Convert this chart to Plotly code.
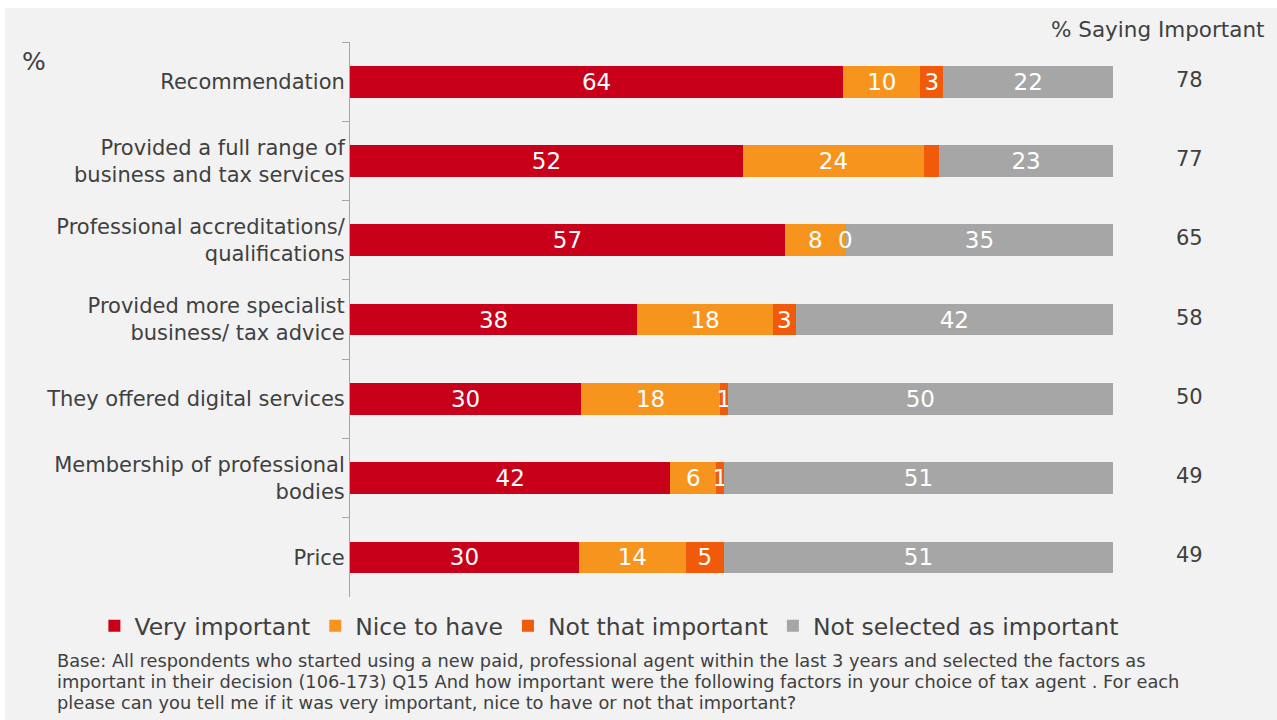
import plotly.graph_objects as go

# Factors in choosing a tax agent (top to bottom)
factors = [
    "Recommendation",
    "Provided a full range of<br>business and tax services",
    "Professional accreditations/<br>qualifications",
    "Provided more specialist<br>business/ tax advice",
    "They offered digital services",
    "Membership of professional<br>bodies",
    "Price",
]

very_important = [64, 52, 57, 38, 30, 42, 30]
nice_to_have = [10, 24, 8, 18, 18, 6, 14]
not_that_important = [3, 2, 0, 3, 1, 1, 5]
not_selected = [22, 23, 35, 42, 50, 51, 51]

# Labels shown on the "Not that important" segment (one segment is unlabelled)
not_that_important_labels = ["3", "", "0", "3", "1", "1", "5"]

saying_important = [78, 77, 65, 58, 50, 49, 49]

base_note = [
    "Base: All respondents who started using a new paid, professional agent within the last 3 years and selected the factors as",
    "important in their decision (106-173) Q15 And how important were the following factors in your choice of tax agent . For each",
    "please can you tell me if it was very important, nice to have or not that important?",
]

series = [
    ("Very important", very_important, "#C8001A", [str(v) for v in very_important]),
    ("Nice to have", nice_to_have, "#F7941E", [str(v) for v in nice_to_have]),
    ("Not that important", not_that_important, "#F15A0A", not_that_important_labels),
    ("Not selected as important", not_selected, "#A6A6A6", [str(v) for v in not_selected]),
]

label_font = "DejaVu Sans"
text_grey = "#404040"
value_size = 23

fig = go.Figure()
for name, vals, color, labels in series:
    fig.add_trace(go.Bar(
        name=name,
        y=factors,
        x=vals,
        orientation="h",
        marker=dict(color=color, line=dict(width=0)),
        text=labels,
        textposition="inside",
        insidetextanchor="middle",
        textangle=0,
        textfont=dict(family=label_font, size=value_size, color="white"),
        hoverinfo="skip",
    ))

annotations = []

# Zero-width segments still carry their "0" label at the stack position
totals = [sum(vals[i] for _, vals, _, _ in series) for i in range(len(factors))]
for i, f in enumerate(factors):
    cum = 0
    for _, vals, _, labels in series:
        if vals[i] == 0 and labels[i]:
            annotations.append(dict(
                text=labels[i], xref="x", yref="y",
                x=cum / totals[i] * 100, y=f,
                xanchor="center", yanchor="middle", showarrow=False,
                font=dict(family=label_font, size=value_size, color="white"),
            ))
        cum += vals[i]

# "% Saying Important" column
annotations.append(dict(
    text="% Saying Important", xref="paper", yref="paper",
    x=1.2, y=1.0, xanchor="right", yanchor="middle", yshift=13,
    showarrow=False, font=dict(family=label_font, size=21.5, color=text_grey),
))
for f, v in zip(factors, saying_important):
    annotations.append(dict(
        text=str(v), xref="paper", yref="y", x=1.1, y=f,
        xanchor="center", yanchor="middle", yshift=2,
        showarrow=False, font=dict(family=label_font, size=21, color=text_grey),
    ))

# Unit marker at top left
annotations.append(dict(
    text="%", xref="paper", yref="paper", x=-0.433, y=0.965,
    xanchor="left", yanchor="middle", showarrow=False,
    font=dict(family=label_font, size=25, color=text_grey),
))

# Base note, one annotation per line
for k, line in enumerate(base_note):
    annotations.append(dict(
        text=line, xref="paper", yref="paper",
        x=-0.3866, y=-0.1153 - k * 0.0378,
        xanchor="left", yanchor="middle", align="left", showarrow=False,
        font=dict(family=label_font, size=17.8, color=text_grey),
    ))

fig.update_layout(
    barmode="stack",
    barnorm="percent",
    bargap=0.6,
    width=1277,
    height=720,
    margin=dict(l=350, r=164, t=42, b=123, autoexpand=False),
    paper_bgcolor="white",
    plot_bgcolor="#F2F2F2",
    showlegend=True,
    legend=dict(
        orientation="h", x=-0.335, y=-0.0523, xanchor="left", yanchor="middle",
        font=dict(family=label_font, size=23.5, color=text_grey),
        traceorder="normal", itemwidth=30, bgcolor="rgba(0,0,0,0)",
    ),
    uniformtext=dict(minsize=value_size, mode="show"),
    annotations=annotations,
    shapes=[dict(
        type="rect", xref="paper", yref="paper", layer="below",
        x0=(5 - 350) / 763, x1=(1277 - 350) / 763,
        y0=-(720 - 597) / 555, y1=1 + (42 - 8) / 555,
        fillcolor="#F2F2F2", line=dict(width=0),
    )],
)

fig.update_xaxes(range=[0, 100.001], visible=False, fixedrange=True)
fig.update_yaxes(
    categoryorder="array", categoryarray=factors, autorange="reversed",
    showline=True, linecolor="#A6A6A6", linewidth=1,
    ticks="outside", tickson="boundaries", ticklen=7, tickcolor="#A6A6A6",
    showgrid=False, zeroline=False,
    tickfont=dict(family=label_font, size=21, color=text_grey),
    ticklabelstandoff=0,
)

fig.write_html("out.html")
